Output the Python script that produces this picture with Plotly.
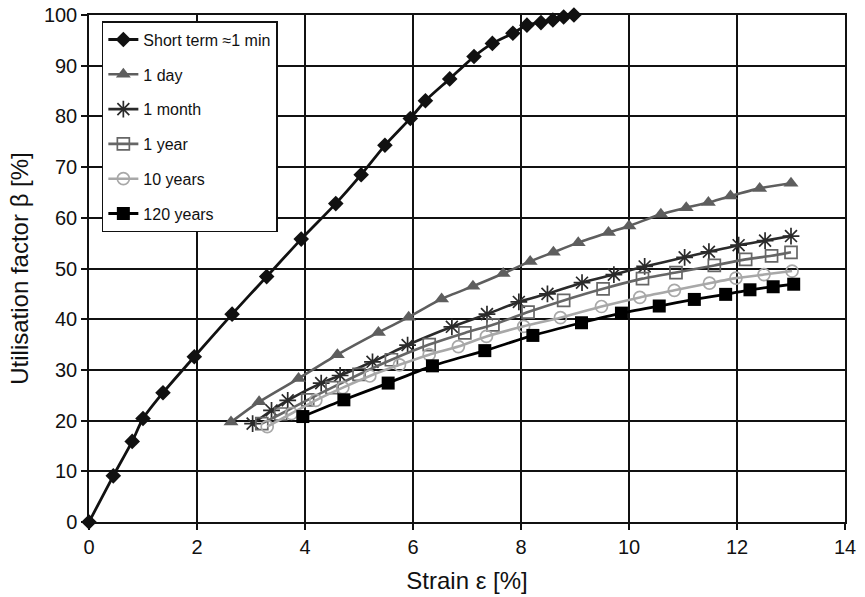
import plotly.graph_objects as go

# ---- data ----
short_x = [0, 0.45, 0.80, 1.00, 1.37, 1.95, 2.65, 3.29, 3.93, 4.57, 5.04, 5.48, 5.95, 6.23, 6.68, 7.13, 7.47, 7.85, 8.11, 8.37, 8.59, 8.79, 8.98]
short_y = [0, 9.1, 15.9, 20.4, 25.5, 32.6, 41.0, 48.4, 55.8, 62.8, 68.5, 74.3, 79.6, 83.1, 87.4, 91.8, 94.4, 96.4, 98.0, 98.5, 99.0, 99.6, 100]

day_x = [2.63, 3.15, 3.88, 4.60, 5.36, 5.92, 6.53, 7.11, 7.67, 8.17, 8.60, 9.06, 9.62, 10.0, 10.59, 11.06, 11.47, 11.88, 12.42, 13.0]
day_y = [19.7, 23.7, 28.3, 33.0, 37.4, 40.4, 44.0, 46.5, 49.0, 51.4, 53.2, 55.1, 57.1, 58.4, 60.7, 62.0, 63.0, 64.3, 65.8, 66.8]

month_x = [3.03, 3.38, 3.68, 4.30, 4.65, 5.25, 5.90, 6.72, 7.37, 7.96, 8.49, 9.13, 9.72, 10.29, 11.03, 11.48, 12.03, 12.52, 13.0]
month_y = [19.4, 22.0, 24.0, 27.4, 28.9, 31.6, 34.9, 38.5, 41.0, 43.4, 45.0, 47.2, 48.8, 50.4, 52.2, 53.3, 54.6, 55.5, 56.4]

year_x = [3.20, 3.55, 4.05, 4.50, 5.00, 5.60, 6.30, 6.96, 7.48, 8.13, 8.79, 9.52, 10.25, 10.87, 11.58, 12.16, 12.64, 13.0]
year_y = [19.4, 21.3, 24.1, 26.5, 29.1, 32.0, 35.0, 37.3, 38.9, 41.4, 43.7, 46.0, 48.0, 49.2, 50.6, 51.8, 52.5, 53.2]

ten_x = [3.30, 3.75, 4.20, 4.70, 5.20, 5.75, 6.30, 6.84, 7.36, 8.05, 8.73, 9.49, 10.20, 10.84, 11.49, 11.98, 12.50, 13.02]
ten_y = [18.8, 21.4, 24.0, 26.5, 28.8, 31.0, 33.0, 34.6, 36.6, 38.6, 40.3, 42.5, 44.3, 45.7, 47.1, 48.1, 48.8, 49.5]

old_x = [3.96, 4.72, 5.54, 6.36, 7.33, 8.22, 9.12, 9.86, 10.56, 11.21, 11.79, 12.24, 12.67, 13.05]
old_y = [20.8, 24.1, 27.4, 30.8, 33.8, 36.8, 39.3, 41.2, 42.6, 43.9, 44.9, 45.8, 46.4, 46.9]

x_ticks = [0, 2, 4, 6, 8, 10, 12, 14]
y_ticks = [0, 10, 20, 30, 40, 50, 60, 70, 80, 90, 100]

series = [
    ("Short term \u22481 min", short_x, short_y, "#111111", "diamond", 12, 2.8),
    ("1 day", day_x, day_y, "#5e5e5e", "triangle-up", 13, 2.6),
    ("1 month", month_x, month_y, "#2a2a2a", "asterisk-open", 14, 2.6),
    ("1 year", year_x, year_y, "#666666", "square-open", 12, 2.6),
    ("10 years", ten_x, ten_y, "#a8a8a8", "circle-open", 12, 2.6),
    ("120 years", old_x, old_y, "#000000", "square", 13, 2.8),
]

FONT = "Liberation Sans, Arial, Helvetica, sans-serif"

fig = go.Figure()
for i, (name, xs, ys, col, sym, sz, lw) in enumerate(series):
    fig.add_trace(go.Scatter(
        x=xs, y=ys, name=name, mode="lines+markers",
        line=dict(color=col, width=lw, shape="spline", smoothing=0.6),
        marker=dict(symbol=sym, size=sz, color=col,
                    line=dict(color=col, width=1.7 if "open" in sym else 0)),
        cliponaxis=False, legendgroup=f"g{i}",
    ))

fig.update_layout(
    width=865, height=597,
    margin=dict(l=89, r=20, t=15, b=75, autoexpand=False),
    paper_bgcolor="white", plot_bgcolor="white",
    font=dict(family=FONT, color="#111111"),
    showlegend=True,
    legend=dict(
        x=0.017, y=0.988, xanchor="left", yanchor="top",
        bgcolor="white", bordercolor="#111111", borderwidth=1.5,
        font=dict(size=16, family=FONT, color="#111111"),
        tracegroupgap=11, itemwidth=30,
    ),
    xaxis=dict(
        range=[0, 14], tickvals=x_ticks, ticktext=[str(v) for v in x_ticks],
        showgrid=True, gridcolor="#111111", gridwidth=1.5,
        showline=True, linecolor="#111111", linewidth=1.5, mirror=True,
        ticks="outside", ticklen=6, tickcolor="#111111", tickwidth=1.5,
        tickfont=dict(size=20), zeroline=False, automargin=False,
        ticklabeloverflow="allow",
        title=dict(text="Strain \u03b5 [%]", font=dict(size=24)),
    ),
    yaxis=dict(
        range=[0, 100], tickvals=y_ticks, ticktext=[str(v) for v in y_ticks],
        showgrid=True, gridcolor="#111111", gridwidth=1.5,
        showline=True, linecolor="#111111", linewidth=1.5, mirror=True,
        ticks="outside", ticklen=6, tickcolor="#111111", tickwidth=1.5,
        tickfont=dict(size=20), zeroline=False, automargin=False,
        ticklabeloverflow="allow",
        title=dict(text="Utilisation factor \u03b2 [%]", font=dict(size=24), standoff=8),
    ),
)

fig.write_html("out.html", config={"displayModeBar": False},
               post_script="document.body.style.margin='0';document.body.style.overflow='hidden';")
